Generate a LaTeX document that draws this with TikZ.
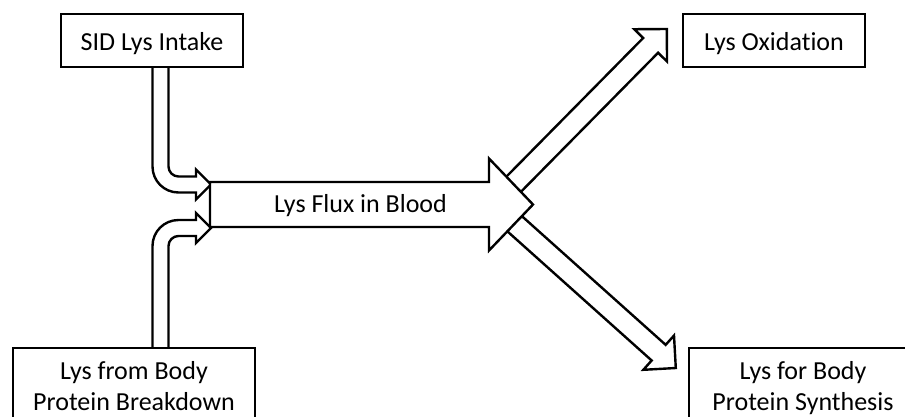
\documentclass[tikz,border=0pt]{standalone}
\usepackage{fontspec}
\setmainfont{Carlito}[Ligatures=NoCommon]
\usetikzlibrary{calc,backgrounds}

% hollow block arrow: #1 tail, #2 tip, #3 shaft half-width, #4 head half-width, #5 head length
\newcommand{\blockarrow}[5]{%
  \coordinate (ba-neck) at ($(#2)!#5!(#1)$);
  \draw[outline] ($(#1)!#3!90:(#2)$) -- ($(ba-neck)!#3!90:(#2)$)
    -- ($(ba-neck)!#4!90:(#2)$) -- (#2) -- ($(ba-neck)!#4!-90:(#2)$)
    -- ($(ba-neck)!#3!-90:(#2)$) -- ($(#1)!#3!-90:(#2)$) -- cycle;
}

\begin{document}
\begin{tikzpicture}[x=1pt,y=-1pt,
  outline/.style={draw=black,line width=2.4pt,fill=white,line join=miter},
  box/.style={draw=black,line width=2.4pt,fill=white,inner sep=0pt,
    font=\fontsize{26}{31}\selectfont},
  onebox/.style={box,minimum width=182pt,minimum height=53pt,
    text height=24pt,text depth=5pt},
  twobox/.style={box,anchor=north,align=center,inner xsep=0pt,
    inner ysep=8pt,text height=54pt,text depth=6pt},
  label/.style={font=\fontsize{26}{31}\selectfont,inner sep=0pt}
]
\useasboundingbox (0,0) rectangle (905,416);
\clip (0,0) rectangle (905,416);

% boxes
\node[onebox] (intake) at (152,40.5) {SID Lys Intake};
\node[onebox] (oxid) at (774,40.5) {Lys Oxidation};
\node[twobox,minimum width=242pt] (breakdown) at (134,347)
  {Lys from Body\\Protein Breakdown};
\node[twobox,minimum width=228pt] (synthesis) at (803,347)
  {Lys for Body\\Protein Synthesis};

\begin{scope}[on background layer]
  \fill[white] (0,0) rectangle (905,416);

  % outflows, leaving from inside the head of the blood arrow
  \coordinate (ox-from) at (505,193);
  \coordinate (ox-to) at ($(oxid.west)+(-15,-11.5)$);
  \blockarrow{ox-from}{ox-to}{10.5pt}{23pt}{23pt}
  \coordinate (syn-from) at (504.3,214.5);
  \coordinate (syn-to) at ($(synthesis.north west)+(-12,21)$);
  \blockarrow{syn-from}{syn-to}{10.5pt}{23pt}{23pt}

  % inflow from intake, bending into the blood arrow
  \draw[outline] ($(intake.south)+(0.5,-2)$) -- (152.5,166.5)
    .. controls (152.5,180.9) and (164.1,192.5) .. (178.5,192.5)
    -- (196,192.5) -- (196,199.5) -- (211,184.5) -- (196,169.5)
    -- (196,176.5) -- (178.5,176.5)
    .. controls (173,176.5) and (168.5,172) .. (168.5,166.5)
    -- ($(intake.south)+(16.5,-2)$);

  % inflow from protein breakdown
  \draw[outline] ($(breakdown.north)+(18.5,2)$) -- (152.5,246)
    .. controls (152.5,231.6) and (164.1,220) .. (178.5,220)
    -- (196,220) -- (196,213) -- (211,228) -- (196,243)
    -- (196,236) -- (178.5,236)
    .. controls (173,236) and (168.5,240.5) .. (168.5,246)
    -- ($(breakdown.north)+(34.5,2)$);

  % central flux arrow
  \coordinate (flux-tail) at (210,204.5);
  \coordinate (flux-tip) at (533,204.5);
  \blockarrow{flux-tail}{flux-tip}{22.5pt}{46pt}{44pt}
\end{scope}

\node[label,anchor=base] (flux) at (360.5,212.7) {Lys Flux in Blood};
\end{tikzpicture}
\end{document}
